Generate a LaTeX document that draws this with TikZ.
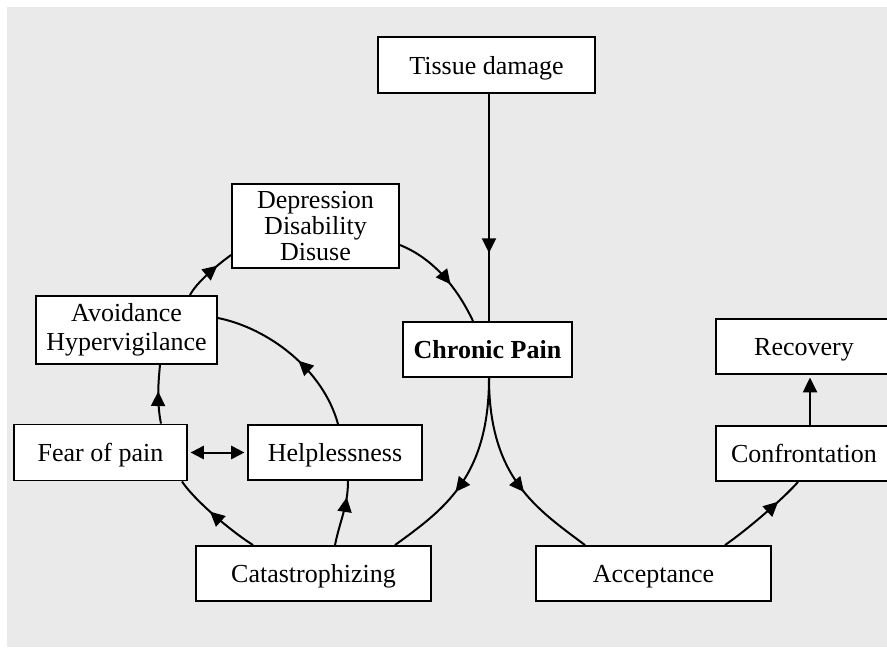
\documentclass[tikz,border=0pt]{standalone}
\usepackage{fontspec}
\setmainfont{Liberation Serif}
\usetikzlibrary{arrows.meta,decorations.markings,calc}
\definecolor{bggray}{RGB}{234,234,234}
\begin{document}
\begin{tikzpicture}[x=0.75pt,y=-0.75pt,
  box/.style={draw, fill=white, line width=1.4pt, inner sep=0pt, align=center,
    font=\fontsize{19.5pt}{19.5pt}\selectfont},
  oneline/.style={text height=14pt, text depth=0pt},
  conn/.style={line width=1.5pt},
  midarrow/.style={postaction={decorate}, decoration={markings,
    mark=at position #1 with {\arrow{Triangle[length=11pt,width=10.5pt]}}}},
  endarrow/.style={-{Triangle[length=11pt,width=10.5pt]}, shorten >=2pt},
  botharrow/.style={{Triangle[length=10pt,width=10pt]}-{Triangle[length=10pt,width=10pt]}, shorten >=2pt, shorten <=2pt}]
\useasboundingbox (0,0) rectangle (887,647);
\clip (0,0) rectangle (887,647);
\fill[bggray] (7,7) rectangle (887,647);

\node[box, oneline, minimum width=162.75pt, minimum height=42pt] (td) at (486.5,65) {Tissue damage};
\node[box, oneline, minimum width=126.75pt, minimum height=41.25pt] (cp) at (487.5,349.5) {\bfseries Chronic Pain};
\node[box, minimum width=125.25pt, minimum height=63pt] (dep) at (315.5,226) {Depression\\Disability\\Disuse};
\node[box, minimum width=135.75pt, minimum height=51pt, font=\fontsize{19.5pt}{21.75pt}\selectfont] (av) at (126.5,330) {Avoidance\\Hypervigilance};
\node[box, oneline, minimum width=129.75pt, minimum height=42pt] (fear) at (100.5,452.5) {Fear of pain};
\node[box, oneline, minimum width=130.5pt, minimum height=41.25pt] (help) at (335,452.5) {Helplessness};
\node[box, oneline, minimum width=176.25pt, minimum height=41.25pt] (cat) at (313.5,573.5) {Catastrophizing};
\node[box, oneline, minimum width=176.25pt, minimum height=41.25pt] (acc) at (653.5,573.5) {Acceptance};
\node[box, oneline, minimum width=132pt, minimum height=41.25pt] (conf) at (804,453.5) {Confrontation};
\node[box, oneline, minimum width=132pt, minimum height=41.25pt] (rec) at (804,346.5) {Recovery};

% Tissue damage -> Chronic Pain
\draw[conn, midarrow=0.7] ($(td.south)+(2.5,0)$) -- ($(cp.north)+(1.5,0)$);
% Depression -> Chronic Pain
\draw[conn, midarrow=0.6] ($(dep.east)+(0,19)$) .. controls +(30,12) and +(-18,-38) .. ($(cp.north)+(-14.5,0)$);
% Avoidance -> Depression
\draw[conn, midarrow=0.7] ($(av.north)+(63.5,0)$) .. controls +(6,-12) and +(-14,10) .. ($(dep.west)+(0,29)$);
% Fear -> Avoidance
\draw[conn, midarrow=0.55] ($(fear.north)+(60.5,0)$) .. controls +(-4,-20) and +(-2,20) .. ($(av.south)+(33.5,0)$);
% Helplessness -> Avoidance
\draw[conn, midarrow=0.45] ($(help.north)+(3,0)$) .. controls +(-15,-55) and +(50,10) .. ($(av.east)+(0,-12)$);
% Catastrophizing -> Helplessness
\draw[conn, midarrow=0.75] ($(cat.north)+(21.5,0)$) .. controls +(5,-25) and +(0,25) .. ($(help.south)+(13,0)$);
% Catastrophizing -> Fear
\draw[conn, midarrow=0.57] ($(cat.north)+(-60.5,0)$) .. controls +(-25,-16) and +(11,17) .. ($(fear.south)+(81.5,0)$);
% Fear <-> Helplessness
\draw[conn, botharrow] (fear) -- (help);
% Chronic Pain -> Catastrophizing
\draw[conn, midarrow=0.6] ($(cp.south)+(1.5,0)$) .. controls +(0,100) and +(48,-35) .. ($(cat.north)+(81.5,0)$);
% Chronic Pain -> Acceptance
\draw[conn, midarrow=0.6] ($(cp.south)+(1.5,0)$) .. controls +(0,100) and +(-48,-36) .. ($(acc.north)+(-68.5,0)$);
% Acceptance -> Confrontation
\draw[conn, midarrow=0.71] ($(acc.north)+(71.5,0)$) .. controls +(23,-16) and +(-14,16) .. ($(conf.south)+(-6,0)$);
% Confrontation -> Recovery
\draw[conn, endarrow] ($(conf.north)+(6,0)$) -- ($(rec.south)+(6,0)$);
\end{tikzpicture}
\end{document}
